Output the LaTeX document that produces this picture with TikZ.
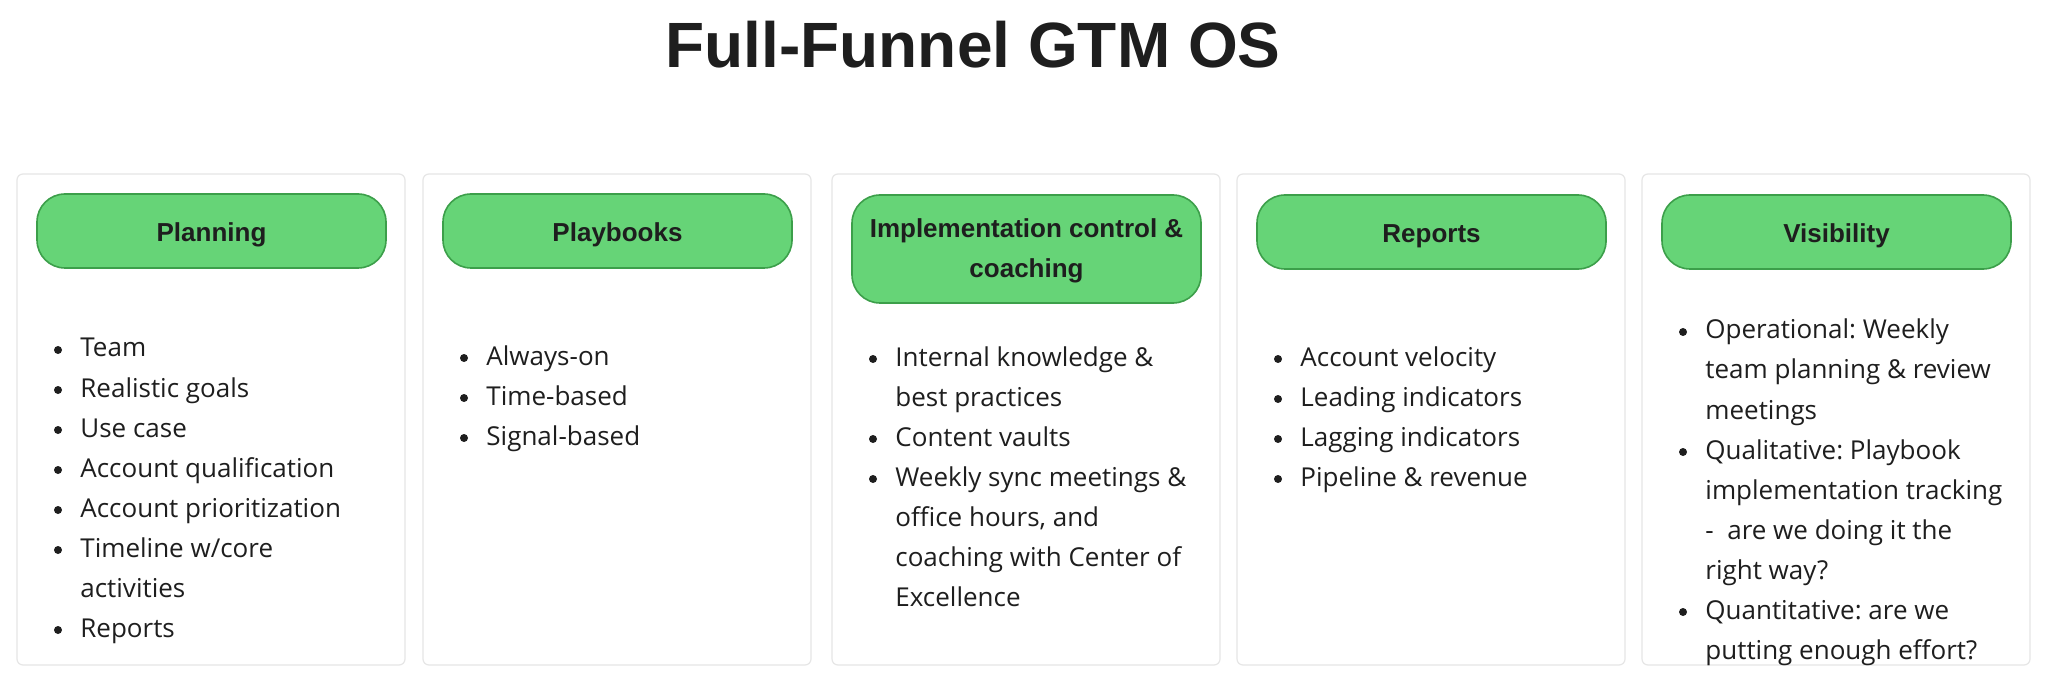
\documentclass[tikz,border=0pt]{standalone}
\usepackage{fontspec}
\setmainfont{Liberation Sans}
\newfontfamily\bodyfont{Open Sans}
\definecolor{pillfill}{HTML}{66D477}
\definecolor{pillline}{HTML}{3C9F4A}
\definecolor{cardline}{HTML}{E6E6E6}
\definecolor{ink}{HTML}{1E1E1E}
\begin{document}
\frenchspacing
\begin{tikzpicture}[x=0.5pt,y=-0.5pt,
  card/.style={draw=cardline,line width=0.6pt,rounded corners=3pt},
  pill/.style={draw=pillline,fill=pillfill,line width=0.8pt,rounded corners=14pt},
  pilltext/.style={font=\fontsize{13}{20}\selectfont\bfseries,text=ink,inner sep=0pt,align=center},
  item/.style={font=\bodyfont\fontsize{13}{20}\selectfont,text=ink,inner sep=0pt,anchor=base west},
  dot/.style={circle,fill=ink,inner sep=0pt,minimum size=4pt}]
\useasboundingbox (0,0) rectangle (2048,689);
\fill[white] (0,0) rectangle (2048,689);
\node[font=\fontsize{32}{36}\selectfont\bfseries,text=ink,inner sep=0pt,anchor=base] (title) at (973,68) {Full-Funnel GTM OS};
% cards
\foreach \i/\x in {1/17,2/423,3/832,4/1237,5/1642}{
  \draw[card] (\x,174) rectangle ++(388,491);
}
\draw[pill] (37,194) rectangle (386,268);
\node[pilltext,anchor=base] (p1) at (211.5,242) {Planning};
\draw[pill] (443,194) rectangle (792,268);
\node[pilltext,anchor=base] (p2) at (617.5,242) {Playbooks};
\draw[pill] (852,195) rectangle (1201,303);
\node[pilltext,anchor=base] (p3a) at (1026.5,238) {Implementation control \&};
\node[pilltext,anchor=base] (p3b) at (1026.5,278) {coaching};
\draw[pill] (1257,195) rectangle (1606,269);
\node[pilltext,anchor=base] (p4) at (1431.5,243) {Reports};
\draw[pill] (1662,195) rectangle (2011,269);
\node[pilltext,anchor=base] (p5) at (1836.5,243) {Visibility};
% items: card left x, first baseline, lines (b = bullet, c = continuation)
\newcommand\itemsat[4]{%
  \foreach \kind/\txt [count=\k from 0] in {#4}{%
    \pgfmathsetmacro\yy{#3+40*\k}
    \node[item] (c#1l\k) at (#2+63,\yy) {\txt};
    \if b\kind \node[dot] (c#1d\k) at (#2+41,\yy-7) {};\fi
  }}
\itemsat{1}{17}{357}{b/Team,b/Realistic goals,b/Use case,b/Account qualification,b/Account prioritization,b/{Timeline w/core},c/activities,b/Reports}
\itemsat{2}{423}{365}{b/Always-on,b/Time-based,b/Signal-based}
\itemsat{3}{832}{366}{b/Internal knowledge \&,c/best practices,b/Content vaults,b/Weekly sync meetings \&,c/{office hours, and},c/coaching with Center of,c/Excellence}
\itemsat{4}{1237}{366}{b/Account velocity,b/Leading indicators,b/Lagging indicators,b/Pipeline \& revenue}
\itemsat{5}{1642}{339}{b/Operational: Weekly,c/team planning \& review,c/meetings,b/Qualitative: Playbook,c/implementation tracking,c/-~ are we doing it the,c/right way?,b/Quantitative: are we,c/putting enough effort?}
\end{tikzpicture}
\end{document}
